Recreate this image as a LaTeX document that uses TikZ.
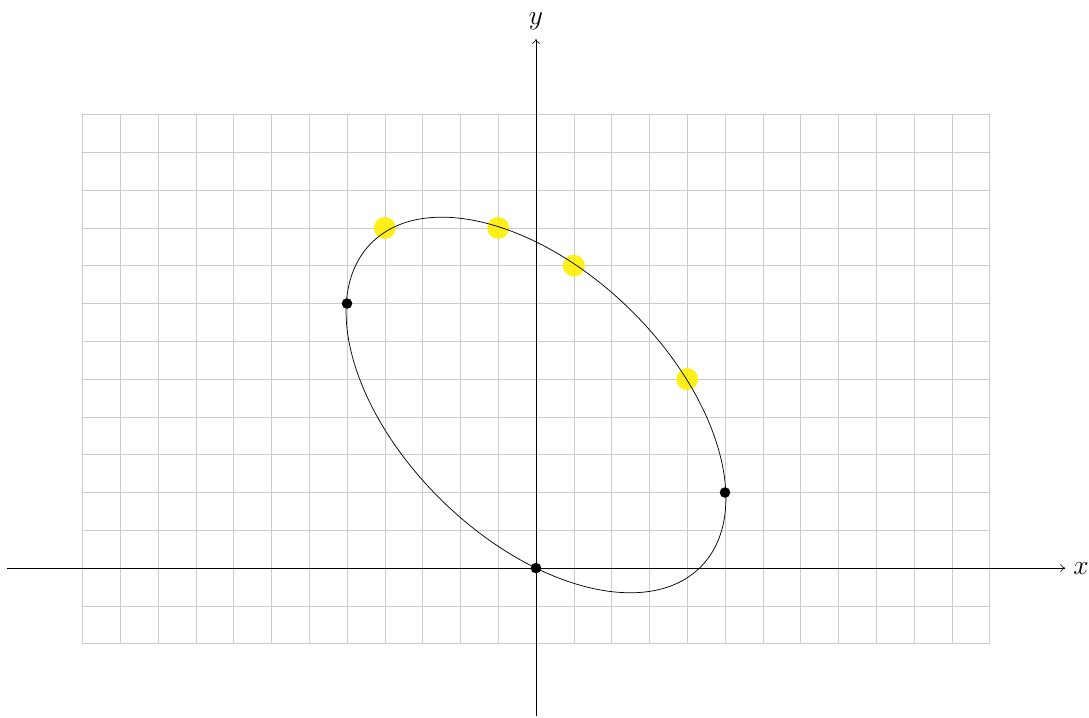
\documentclass[tikz,border=0pt]{standalone}
\usetikzlibrary{arrows.meta}
\definecolor{ptyellow}{RGB}{255,238,0}
\begin{document}
\begin{tikzpicture}[
  gridline/.style={draw=black!20, line width=0.4pt},
  axisline/.style={draw=black, line width=0.45pt, -{To[length=3.6pt,width=6pt]}},
  blackdot/.style={circle, fill=black, inner sep=0pt, minimum size=0.28cm},
  yellowdot/.style={circle, fill=ptyellow, fill opacity=0.9, inner sep=0pt, minimum size=0.58cm},
  curveline/.style={draw=black, line width=0.55pt},
  axislabel/.style={font=\huge}
]
\useasboundingbox (-14.18,-3.94) rectangle (14.63,15.03);
\draw[gridline] (-12,-2) grid (12,12);
\coordinate (xs) at (-14,0);
\coordinate (xe) at (14,0);
\coordinate (ys) at (0,-3.9);
\coordinate (ye) at (0,14);
\draw[axisline] (xs) -- (xe);
\draw[axisline] (ys) -- (ye);
\node[axislabel] (xl) at (14.42,0) {$x$};
\node[axislabel] (yl) at (0,14.48) {$y$};
\node[yellowdot] (q1) at (-4,9) {};
\node[yellowdot] (q2) at (-1,9) {};
\node[yellowdot] (q3) at (1,8) {};
\node[yellowdot] (q4) at (4,5) {};
\draw[curveline, rotate around={-44.35:(0,4.316)}] (0,4.316) ellipse [x radius=6.11, y radius=3.548];
\node[blackdot] (p1) at (0,0) {};
\node[blackdot] (p2) at (-5,7) {};
\node[blackdot] (p3) at (5,2) {};
\end{tikzpicture}
\end{document}
